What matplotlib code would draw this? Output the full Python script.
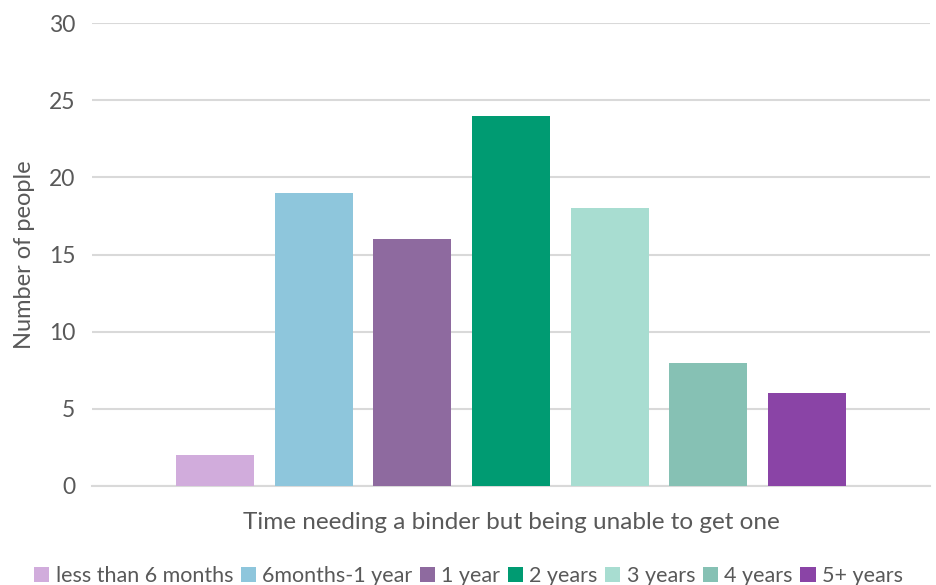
import matplotlib
matplotlib.use("Agg")
import matplotlib.pyplot as plt
from matplotlib.patches import Patch

categories = ["less than 6 months", "6months-1 year", "1 year", "2 years",
              "3 years", "4 years", "5+ years"]
values = [2, 19, 16, 24, 18, 8, 6]
colors = ["#D1ACDC", "#8EC6DC", "#8E6A9F", "#009B72", "#A8DDD1", "#86C1B4", "#8A44A6"]
yticks = [0, 5, 10, 15, 20, 25, 30]

plt.rcParams["font.family"] = ["Lato", "DejaVu Sans"]
text_color = "#595959"

fig = plt.figure(figsize=(9.37, 5.85), dpi=100)
ax = fig.add_axes([92 / 937, (585 - 486) / 585, (930 - 92) / 937, (486 - 23) / 585])

positions = list(range(len(values)))
ax.bar(positions, values, width=0.79, color=colors, zorder=3)

ax.set_xlim(-1.25, 7.25)
ax.set_ylim(0, 30)
ax.set_yticks(yticks)
ax.set_xticks([])
ax.grid(axis="y", color="#D9D9D9", linewidth=1.5, zorder=0)
for s in ["top", "right", "left"]:
    ax.spines[s].set_visible(False)
ax.spines["bottom"].set_color("#D9D9D9")
ax.spines["bottom"].set_linewidth(1.5)
ax.tick_params(axis="y", length=0, pad=12, labelsize=16.5, labelcolor=text_color)

ax.set_ylabel("Number of people", fontsize=17, color=text_color, labelpad=10)
ax.set_xlabel("Time needing a binder but being unable to get one", fontsize=17.5,
              color=text_color, labelpad=19)

handles = [Patch(facecolor=c, edgecolor="none") for c in colors]
fig.legend(handles, categories, loc="lower center", bbox_to_anchor=(0.5, -0.035),
           ncol=len(categories), frameon=False, fontsize=15.5, labelcolor=text_color,
           handlelength=0.7, handleheight=0.7, handletextpad=0.3, columnspacing=0.35)

fig.savefig("out.png", dpi=100, facecolor="white")
